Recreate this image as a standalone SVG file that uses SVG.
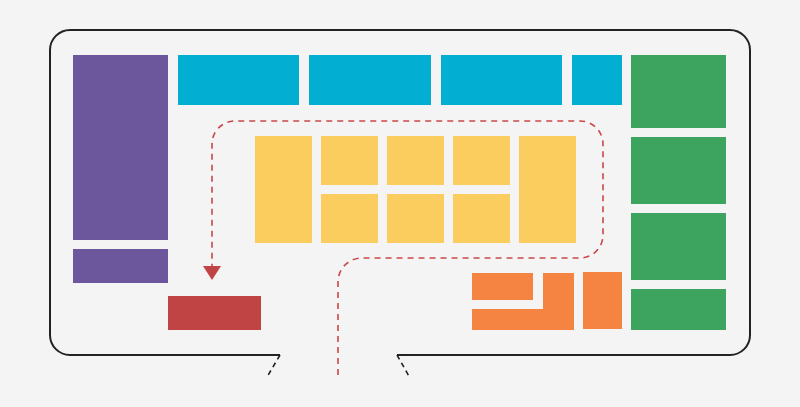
<svg xmlns="http://www.w3.org/2000/svg" width="800" height="407" viewBox="0 0 800 407">
<style>.p{fill:#6c579c}.b{fill:#03aed3}.g{fill:#3ca45e}.y{fill:#fbcc5e}.o{fill:#f58443}.r{fill:#c04444}.d{fill:none;stroke:#c9474a;stroke-width:1.6;stroke-dasharray:6 5}</style>
<rect width="800" height="407" fill="#f4f4f4"/>
<path d="M280,355 H70 A20,20 0 0 1 50,335 V50 A20,20 0 0 1 70,30 H730 A20,20 0 0 1 750,50 V335 A20,20 0 0 1 730,355 H397" fill="none" stroke="#222" stroke-width="2"/>
<path d="M280,355 L267,377 M397,355 L410,378" stroke="#222" stroke-width="1.6" stroke-dasharray="5 4" fill="none"/>
<rect class="p" x="73" y="55" width="95" height="185"/><rect class="p" x="73" y="249" width="95" height="34"/>
<rect class="b" x="178" y="55" width="121" height="50"/><rect class="b" x="309" y="55" width="122" height="50"/><rect class="b" x="441" y="55" width="121" height="50"/><rect class="b" x="572" y="55" width="50" height="50"/>
<rect class="g" x="631" y="55" width="95" height="73"/><rect class="g" x="631" y="137" width="95" height="67"/><rect class="g" x="631" y="213" width="95" height="67"/><rect class="g" x="631" y="289" width="95" height="41"/>
<rect class="y" x="255" y="136" width="57" height="107"/><rect class="y" x="321" y="136" width="57" height="49"/><rect class="y" x="387" y="136" width="57" height="49"/><rect class="y" x="453" y="136" width="57" height="49"/><rect class="y" x="321" y="194" width="57" height="49"/><rect class="y" x="387" y="194" width="57" height="49"/><rect class="y" x="453" y="194" width="57" height="49"/><rect class="y" x="519" y="136" width="57" height="107"/>
<rect class="o" x="472" y="273" width="61" height="27"/><path class="o" d="M543,273 H574 V330 H472 V309 H543 Z"/><rect class="o" x="583" y="272" width="39" height="57"/>
<rect class="r" x="168" y="296" width="93" height="34"/>
<g id="connectors"><path class="d" d="M338,375 V282 A24,24 0 0 1 362,258 H580 A23,23 0 0 0 603,235 V144 A23,23 0 0 0 580,121 H235 A23,23 0 0 0 212,144 V266"/>
<path d="M203,266 H221 L212,280 Z" class="r"/></g>
</svg>
